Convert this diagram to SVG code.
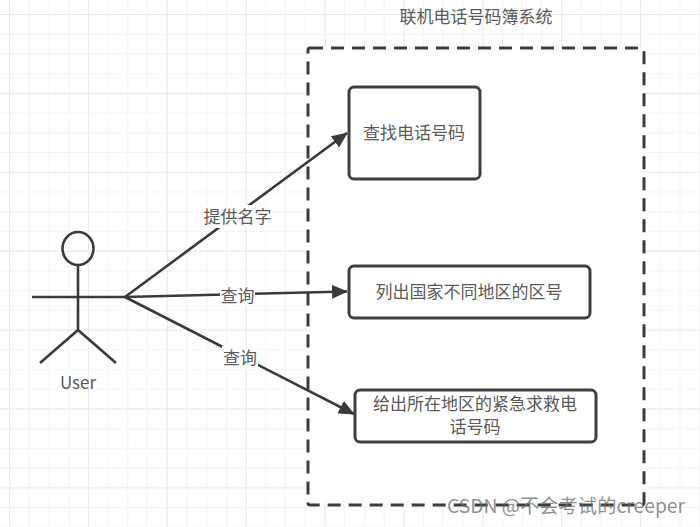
<svg xmlns="http://www.w3.org/2000/svg" width="700" height="527" viewBox="0 0 700 527">
<defs>
<pattern id="minor" width="19.72" height="19.72" patternUnits="userSpaceOnUse" x="9" y="14"><path d="M0 0H19.72M0 0V19.72" fill="none" stroke="#f1f1f1" stroke-width="1.6"/></pattern>
<pattern id="major" width="78.9" height="78.9" patternUnits="userSpaceOnUse" x="9" y="14"><path d="M0 0H78.9M0 0V78.9" fill="none" stroke="#e8e8e8" stroke-width="1.6"/></pattern>
<marker id="arrow" viewBox="0 0 16 14" refX="15" refY="7" markerWidth="16" markerHeight="14" markerUnits="userSpaceOnUse" orient="auto"><path d="M0 0L16 7L0 14Z" fill="#3a3a3a"/></marker>
</defs>
<style>
text{font-family:"Noto Sans CJK SC","Liberation Sans",sans-serif;fill:#5a5a5a;font-size:17px;text-anchor:middle}
.n{fill:#fff;stroke:#3f3f3f;stroke-width:3}
.l{fill:none;stroke:#3a3a3a;stroke-width:2.6}
.bg{fill:#fff}
</style>
<rect width="700" height="527" fill="#fff"/>
<rect width="700" height="527" fill="url(#minor)"/>
<rect width="700" height="527" fill="url(#major)"/>
<g id="system">
<rect x="308" y="48" width="336" height="457" rx="2" fill="#fff" stroke="#3c3c3c" stroke-width="3" stroke-dasharray="13 8"/>
<text x="476" y="23">联机电话号码簿系统</text>
</g>
<g id="connectors">
<line class="l" x1="125" y1="297" x2="347" y2="133" marker-end="url(#arrow)"/>
<line class="l" x1="125" y1="297" x2="347" y2="291.500" marker-end="url(#arrow)"/>
<line class="l" x1="125" y1="297" x2="354" y2="414" marker-end="url(#arrow)"/>
<rect class="bg" x="203" y="205" width="69" height="23"/>
<text x="237.500" y="223">提供名字</text>
<rect class="bg" x="220" y="285" width="35" height="21"/>
<text x="237.500" y="302">查询</text>
<rect class="bg" x="222" y="346" width="36" height="23"/>
<text x="240" y="364">查询</text>
</g>
<g id="actor">
<ellipse class="l" cx="78" cy="248.500" rx="15.500" ry="16.500"/>
<path class="l" d="M78 265V330M32 297H125M40 363L78 330L116 363"/>
<text x="78" y="389">User</text>
</g>
<g id="node-find">
<rect class="n" x="349" y="87" width="131" height="92" rx="5"/>
<text x="414" y="139">查找电话号码</text>
</g>
<g id="node-list">
<rect class="n" x="349" y="266" width="241" height="52" rx="5"/>
<text x="469" y="298">列出国家不同地区的区号</text>
</g>
<g id="node-emergency">
<rect class="n" x="355" y="390" width="241" height="52" rx="5"/>
<text x="475" y="410">给出所在地区的紧急求救电</text>
<text x="475" y="433">话号码</text>
</g>
<text x="566" y="513" style="font-size:19.300px;fill:#6a6a6a;fill-opacity:.75">CSDN @不会考试的creeper</text>
</svg>
